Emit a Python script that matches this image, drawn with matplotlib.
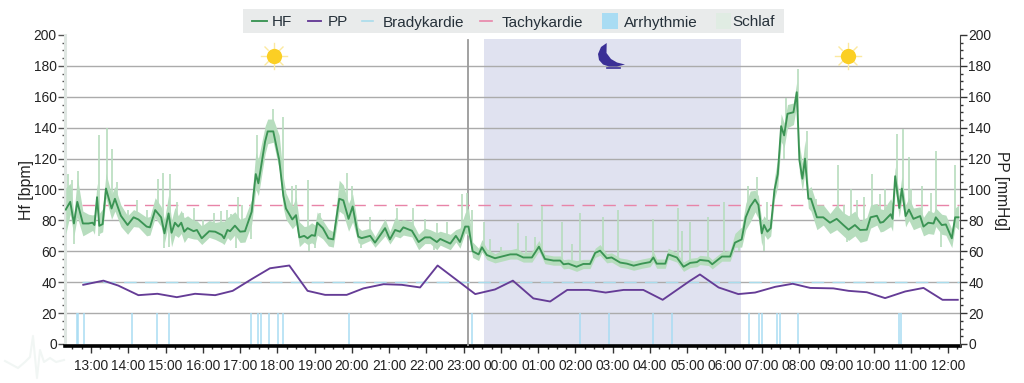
import matplotlib
matplotlib.use("Agg")
import matplotlib.pyplot as plt
import numpy as np
from matplotlib.lines import Line2D
from matplotlib.patches import Polygon, Rectangle

# Hours are counted from midnight of the first day (25.0 = 01:00 next day)
hf_hours = [12.32, 12.44, 12.54, 12.63, 12.78, 12.93, 13.04, 13.09, 13.16, 13.22, 13.31, 13.40, 13.55, 13.64, 13.80,
            13.98, 14.14, 14.27, 14.49, 14.58, 14.72, 14.88, 14.97, 15.08, 15.16, 15.25, 15.34, 15.42, 15.50, 15.59,
            15.75, 15.84, 15.97, 16.17, 16.33, 16.51, 16.57, 16.66, 16.73, 16.86, 17.00, 17.13, 17.31, 17.42, 17.49,
            17.67, 17.74, 17.89, 18.05, 18.16, 18.23, 18.40, 18.50, 18.59, 18.72, 18.81, 18.92, 19.01, 19.07, 19.22,
            19.37, 19.50, 19.66, 19.77, 19.91, 20.02, 20.17, 20.26, 20.49, 20.62, 20.89, 21.02, 21.16, 21.29, 21.38,
            21.61, 21.79, 21.96, 22.10, 22.28, 22.37, 22.64, 22.79, 22.90, 23.04, 23.13, 23.24, 23.40, 23.49, 23.62,
            23.84, 24.02, 24.25, 24.42, 24.60, 24.83, 25.02, 25.18, 25.41, 25.59, 25.68, 25.81, 26.03, 26.21, 26.39,
            26.53, 26.66, 26.84, 26.97, 27.20, 27.38, 27.56, 27.78, 28.00, 28.09, 28.18, 28.41, 28.49, 28.72, 28.90,
            29.08, 29.26, 29.34, 29.57, 29.67, 29.93, 30.15, 30.28, 30.46, 30.57, 30.69, 30.82, 30.91, 31.00, 31.06,
            31.15, 31.24, 31.34, 31.43, 31.52, 31.60, 31.69, 31.85, 31.94, 32.01, 32.09, 32.16, 32.25, 32.32, 32.48,
            32.65, 32.83, 33.01, 33.19, 33.33, 33.50, 33.64, 33.82, 33.92, 34.09, 34.18, 34.26, 34.46, 34.51, 34.58,
            34.69, 34.76, 34.86, 34.95, 35.07, 35.25, 35.34, 35.47, 35.61, 35.67, 35.83, 35.94, 36.10, 36.19, 36.28]
hf_values = [87, 92, 78, 92, 78, 78, 78.5, 77, 95, 76.5, 77.6, 100.6, 87.7, 94, 83,
             77, 82, 80.6, 76, 75.5, 86.7, 82, 71.6, 84.5, 72, 78.5, 76, 78.5, 72.7, 75,
             73, 73.8, 68.4, 73, 72.7, 70.5, 68.4, 73.8, 73, 76.6, 72.7, 73, 85.6, 110, 104,
             131, 137.6, 137.6, 119, 96, 87.7, 80.6, 83.4, 69, 70, 68.4, 70.5, 70, 78.5, 75,
             68.4, 67.7, 94, 93, 81, 89, 69.5, 68.5, 70, 65.6, 75, 67.7, 73.8, 72.7, 75.5,
             73.3, 66, 69, 69, 66, 68, 65, 70, 66, 76, 76, 60, 58, 62.6, 57.6,
             55.5, 56.6, 58, 58, 56, 56, 63, 55, 54, 54, 51.6, 52, 50, 51.8, 51.8,
             59, 60.4, 55.5, 56, 52.7, 52, 50.7, 52, 53, 56, 52, 52, 58, 56, 50,
             52.5, 53, 54.4, 53.8, 51.6, 56.6, 56.6, 65.6, 67.7, 82, 89, 93.5, 90, 71.6, 77,
             72.7, 75, 99.6, 110, 141, 135, 149, 150, 163, 119, 107, 120, 94, 94, 82,
             82, 78.5, 81, 77, 74, 77, 73.8, 74, 82, 83, 78.5, 79, 84, 81, 108.6,
             88, 100.6, 82.8, 87, 81, 82.8, 76, 78.5, 78, 82, 77, 77.4, 68.4, 82, 82]

# spread of the raw trace above and below the mean line, at hf_hours
raw_up = [14, 12, 6, 16, 8, 6, 5, 7, 9, 8, 10, 10, 9, 8, 7,
          6, 5, 5, 6, 7, 8, 7, 9, 12, 8, 10, 7, 8, 9, 8,
          7, 6, 8, 7, 6, 9, 11, 8, 10, 9, 8, 9, 8, 14, 16,
          10, 8, 8, 16, 12, 10, 8, 12, 10, 6, 8, 8, 7, 7, 5,
          6, 5, 12, 10, 10, 8, 6, 5, 5, 4, 6, 5, 8, 7, 5,
          6, 5, 6, 5, 6, 5, 6, 4, 9, 9, 12, 6, 4, 5, 4,
          3, 4, 3, 4, 3, 4, 4, 3, 3, 3, 3, 3, 4, 3, 3,
          3, 4, 3, 3, 3, 3, 3, 3, 3, 4, 3, 3, 4, 3, 3,
          3, 3, 3, 3, 3, 3, 4, 6, 8, 9, 10, 6, 6, 8, 6,
          7, 6, 8, 10, 8, 8, 6, 6, 7, 10, 10, 12, 6, 8, 8,
          8, 6, 9, 8, 9, 9, 6, 8, 8, 8, 9, 8, 10, 10, 6,
          8, 8, 7, 8, 7, 6, 6, 8, 7, 6, 7, 6, 6, 6, 8]
raw_down = [16, 8, 8, 10, 8, 6, 5, 6, 5, 5, 5, 6, 7, 8, 7,
            6, 6, 5, 6, 5, 5, 6, 6, 7, 9, 8, 7, 7, 7, 6,
            5, 6, 4, 4, 5, 5, 4, 5, 6, 6, 7, 7, 8, 10, 8,
            8, 8, 7, 6, 8, 7, 6, 6, 6, 4, 4, 5, 6, 8, 7,
            5, 5, 8, 9, 8, 10, 4, 4, 3, 3, 5, 3, 4, 4, 5,
            4, 5, 4, 4, 5, 4, 4, 4, 4, 4, 6, 4, 4, 3, 3,
            3, 3, 3, 3, 3, 3, 3, 3, 3, 3, 3, 3, 3, 3, 3,
            3, 3, 3, 3, 3, 3, 3, 3, 3, 3, 3, 3, 3, 3, 3,
            3, 3, 3, 3, 3, 3, 3, 3, 5, 8, 10, 8, 9, 8, 6,
            5, 5, 6, 8, 10, 8, 9, 8, 8, 8, 8, 8, 6, 8, 8,
            5, 7, 7, 7, 7, 7, 8, 7, 7, 6, 6, 6, 8, 8, 8,
            6, 7, 7, 7, 7, 7, 6, 7, 7, 6, 6, 7, 6, 6, 8]

spike_hours = [12.39, 12.48, 12.66, 13.20, 13.44, 13.55, 13.69, 14.0, 14.23, 14.49, 14.79, 14.92, 15.12, 15.3, 15.48,
               15.75, 16.00, 16.3, 16.5, 16.64, 16.75, 16.95, 17.05, 17.2, 17.45, 17.71, 17.89, 18.14, 18.39, 18.50,
               18.83, 19.15, 19.86, 20.00, 20.49, 21.20, 21.65, 21.96, 22.28, 22.55, 22.95, 23.08, 23.22, 23.55, 23.71,
               24.00, 24.47, 24.67, 24.92, 25.10, 25.63, 25.90, 26.12, 26.73, 27.13, 28.09, 28.76, 28.85, 29.08, 29.57,
               29.99, 30.62, 30.87, 31.15, 31.65, 31.96, 32.21, 32.45, 33.04, 33.2, 33.4, 33.55, 33.75, 33.95, 34.16,
               34.3, 34.64, 34.80, 34.96, 35.0, 35.29, 35.55, 35.68, 36.19]
spike_tops = [110, 106, 112, 135, 140, 126, 105, 87, 93, 87, 107, 111, 110, 92, 85,
              88, 80, 85, 86, 87, 84, 95, 90, 82, 135, 142, 152, 147, 102, 103,
              106, 85, 111, 102, 82, 88, 88, 81, 78, 79, 97, 98, 87, 79, 68,
              63, 78, 70, 69, 89, 79, 65, 84.5, 82, 87, 81, 88, 73, 79, 82,
              92, 102, 108, 92, 159, 178, 138, 94, 116, 90, 100, 93, 95, 110, 97,
              100, 136, 139, 121, 100, 102, 98, 125, 116]
dip_hours = [12.55, 13.2, 14.95, 15.1, 16.9, 17.3, 18.85, 19.0, 20.25, 22.2, 30.4, 31.05, 31.6, 33.3, 35.8]
dip_tips = [65, 70, 62, 63, 62, 68, 60, 62, 62, 61, 60, 60, 120, 66, 63]

pp_hours = [12.79, 13.33, 13.73, 14.27, 14.78, 15.30, 15.79, 16.33, 16.80, 17.31, 17.80, 18.32, 18.81, 19.28, 19.86,
            20.31, 20.85, 21.34, 21.83, 22.30, 23.31, 23.84, 24.32, 24.87, 25.32, 25.78, 26.35, 26.81, 27.29, 27.82,
            28.34, 29.08, 29.34, 29.84, 30.37, 30.82, 31.36, 31.83, 32.30, 32.92, 33.33, 33.82, 34.31, 34.85, 35.34,
            35.85, 36.26]
pp_values = [38.3, 41, 37.8, 31.6, 32.5, 30.3, 32.5, 31.6, 34.4, 42, 49, 50.8, 34.4, 31.8, 31.8,
             36, 38.7, 38.3, 36.6, 50.8, 32.3, 35.3, 41, 29.5, 27.5, 35, 35, 33.3, 35, 35,
             28.6, 41, 45, 36.6, 32.3, 33.3, 37, 39, 36.3, 36, 34.4, 33.5, 29.7, 34, 36.3,
             28.6, 28.6]

arrhythmia_hours = [12.63, 12.66, 12.82, 14.09, 14.76, 15.10, 17.29, 17.49, 17.56, 17.78, 18.01, 18.14, 19.91, 23.23,
                    26.11, 26.90, 28.09, 28.58, 30.66, 30.93, 31.00, 31.42, 31.49, 31.96, 34.67, 34.73]
arrhythmia_top = 20
brady_limit = 40
tachy_limit = 90
limit_start = 12.75
limit_end = 36.3
sleep_start = 23.55
sleep_end = 30.44
sleep_top = 197.5
marker_hour = 23.12

hour_ticks = list(range(13, 37))
hour_labels = [f"{h % 24:02d}:00" for h in hour_ticks]
quarter_ticks = [h / 4 for h in range(50, 146)]

DARK_GREEN = "#3b9454"
LIGHT_GREEN = "#b7ddbe"
PURPLE = "#653c96"
BAR_BLUE = "#a9dcf3"
BRADY = "#a9dcec"
PINK = "#e884a8"
SLEEP = "#e0e2f0"
GRID = "#ababab"
TEXT = "#222222"

plt.rcParams["font.family"] = ["Liberation Sans", "DejaVu Sans"]

W, H = 1024, 383
fig = plt.figure(figsize=(W / 100, H / 100), dpi=100)
ax = fig.add_axes([65 / W, 1 - 346 / H, 895 / W, 311 / H])


def px(x, y):
    # icon and legend positions in picture pixels
    return x / W, 1 - y / H


def px_line(x0, y0, x1, y1, **kw):
    fig.add_artist(Line2D([x0 / W, x1 / W], [1 - y0 / H, 1 - y1 / H], **kw))


# faint watermark line behind the chart
ecg_x = [5, 18, 25, 30, 33, 37, 40, 44, 50, 56, 64]
ecg_y = [361, 368, 362, 357, 336, 378, 350, 362, 358, 362, 360]
fig.add_artist(Line2D([a / W for a in ecg_x], [1 - b / H for b in ecg_y], color="#f1f6f4", lw=1.5, zorder=-5))

ax.axvspan(sleep_start, sleep_end, ymin=0, ymax=(sleep_top + 1.3) / 201.3, color=SLEEP, lw=0, zorder=1)
for v in range(20, 200, 20):
    ax.axhline(v, color=GRID, lw=1, zorder=2)
ax.axvline(marker_hour, ymax=0.985, color="#9a9a9a", lw=1.3, zorder=3)

ax.vlines(arrhythmia_hours, 0, arrhythmia_top, color=BAR_BLUE, lw=1.1, zorder=3)
ax.hlines(brady_limit, limit_start, limit_end, color=BRADY, lw=1, linestyles=(0, (9, 6)), zorder=3)
ax.hlines(tachy_limit, limit_start, limit_end, color=PINK, lw=1, linestyles=(0, (9, 6)), zorder=3)

raw_high = [v + u for v, u in zip(hf_values, raw_up)]
raw_low = [v - d for v, d in zip(hf_values, raw_down)]
ax.fill_between(hf_hours, raw_low, raw_high, color=LIGHT_GREEN, lw=0, zorder=4)
ax.vlines(spike_hours, np.interp(spike_hours, hf_hours, hf_values), spike_tops, color=LIGHT_GREEN, lw=1.2, zorder=4)
ax.vlines(dip_hours, dip_tips, np.interp(dip_hours, hf_hours, hf_values), color=LIGHT_GREEN, lw=1.2, zorder=4)
ax.plot(hf_hours, hf_values, color=DARK_GREEN, lw=1.35, zorder=5)

ax.set_xlim(12.3, 36.32)
ax.set_ylim(-1.3, 200)
ax.set_xticks(hour_ticks)
ax.set_xticklabels(hour_labels)
ax.set_xticks(quarter_ticks, minor=True)
ax.set_yticks(range(0, 201, 20))
ax.set_yticks(range(0, 201, 5), minor=True)
ax.tick_params(axis="x", which="major", length=5, width=1, color="#333333", labelsize=9.9, labelcolor=TEXT, pad=4)
ax.tick_params(axis="x", which="minor", length=2.5, width=1, color="#333333")
ax.tick_params(axis="y", which="major", length=5, width=1, color="#555555", labelsize=9.9, labelcolor=TEXT, pad=1)
ax.tick_params(axis="y", which="minor", length=2.5, width=1, color="#555555")
ax.set_ylabel("Hf [bpm]", fontsize=11.4, color=TEXT, labelpad=0)

ax.spines["top"].set_visible(False)
ax.spines["right"].set_visible(False)
ax.spines["left"].set_color("#dfe6e2")
ax.spines["left"].set_linewidth(2.2)
ax.spines["bottom"].set_color("black")
ax.spines["bottom"].set_linewidth(2.6)

ax2 = ax.twinx()
ax2.plot(pp_hours, pp_values, color=PURPLE, lw=1.35, zorder=5)
ax2.set_ylim(-1.3, 200)
ax2.set_yticks(range(0, 201, 20))
ax2.set_yticks(range(0, 201, 5), minor=True)
ax2.tick_params(axis="y", which="major", length=5, width=1, color="#333333", labelsize=9.9, labelcolor=TEXT, pad=1)
ax2.tick_params(axis="y", which="minor", length=2.5, width=1, color="#333333")
ax2.set_ylabel("PP [mmHg]", fontsize=11.2, color=TEXT, rotation=270, labelpad=13)
ax2.spines["top"].set_visible(False)
ax2.spines["left"].set_visible(False)
ax2.spines["bottom"].set_visible(False)
ax2.spines["right"].set_color("#444444")

# sun icons
for sx, sy in [(274, 56), (848, 56)]:
    for dx, dy in [(-13, 0), (13, 0), (0, -13), (0, 13), (-9, -9), (9, -9), (-9, 9), (9, 9)]:
        px_line(sx + dx * 0.65, sy + dy * 0.65, sx + dx, sy + dy, color="#fbe9a0", lw=1, zorder=6)
    fig.add_artist(Line2D([sx / W], [1 - sy / H], marker="o", markersize=11, color="#fbcf24", mec="none", zorder=7))

# moon icon
moon = [(606.7, 43), (601, 47), (598, 54), (599, 60), (603, 64.5), (609, 66.5), (617, 66.5), (625, 64.5),
        (617, 62.5), (611, 59), (606.5, 53)]
fig.add_artist(Polygon([px(a, b) for a, b in moon], closed=True, transform=fig.transFigure, color="#3a2f96", lw=0, zorder=7))
px_line(607, 67.8, 620, 67.8, color="#3a2f96", lw=1.2, zorder=7)

# legend strip, placed by hand to sit where the original has it
fig.add_artist(Rectangle(px(243, 33), 541 / W, 24 / H, transform=fig.transFigure, color="#e9ebeb", lw=0, zorder=8))
legend_labels = ["HF", "PP", "Bradykardie", "Tachykardie", "Arrhythmie", "Schlaf"]
legend_text_x = [272, 328, 383, 502, 624, 732]
for label, x in zip(legend_labels, legend_text_x):
    fig.text(x / W, 1 - 21 / H, label, fontsize=11, color="#26313a", va="center_baseline", zorder=9)
px_line(252, 21, 267, 21, color=DARK_GREEN, lw=1.35, zorder=9)
px_line(308, 21, 321, 21, color=PURPLE, lw=1.35, zorder=9)
px_line(362, 21, 373, 21, color=BRADY, lw=1.2, zorder=9)
px_line(480, 21, 492, 21, color=PINK, lw=1.2, zorder=9)
fig.add_artist(Rectangle(px(602, 29), 16 / W, 16 / H, transform=fig.transFigure, color=BAR_BLUE, lw=0, zorder=9))
fig.add_artist(Rectangle(px(716, 29), 15 / W, 16 / H, transform=fig.transFigure, color="#e0ece3", lw=0, zorder=9))

fig.savefig("out.png", dpi=100)
